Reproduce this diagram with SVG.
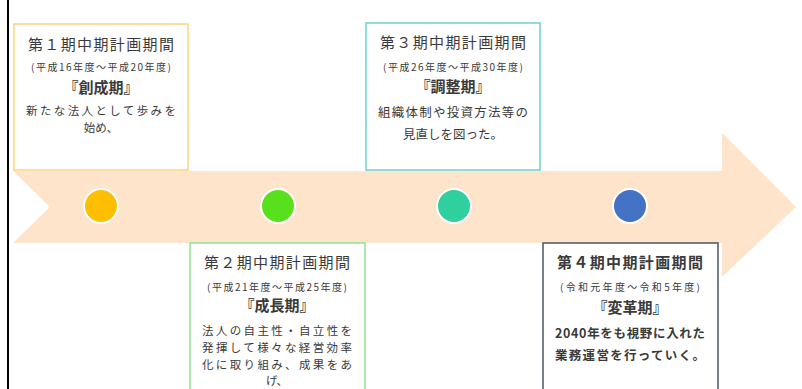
<svg xmlns="http://www.w3.org/2000/svg" width="802" height="389" viewBox="0 0 802 389">
<style>
.t{font-family:"Noto Sans CJK JP","Noto Sans CJK SC",sans-serif;fill:#3a3a3a;text-anchor:middle}
.h{font-size:15px}
.s{font-size:10px}
.k{font-size:15px;font-weight:bold}
.b{font-size:12.5px}
.c{font-size:11.5px}
.box{fill:#ffffff;stroke-width:1.5}
.dot{stroke:#ffffff;stroke-width:2}
</style>
<rect x="0" y="0" width="802" height="389" fill="#ffffff"/>
<line x1="8" y1="0" x2="8" y2="389" stroke="#000000" stroke-width="2"/>
<g id="arrow">
<polygon points="13,171 722,171 722,133 796,207 722,277 722,243 13,243 50,207" fill="#fde4ca"/>
</g>
<g id="connectors"></g>
<g id="dot1"><circle class="dot" cx="101" cy="206" r="17" fill="#ffbe00"/></g>
<g id="dot2"><circle class="dot" cx="278" cy="206" r="17" fill="#59e01c"/></g>
<g id="dot3"><circle class="dot" cx="454" cy="206" r="17" fill="#30cf9e"/></g>
<g id="dot4"><circle class="dot" cx="630" cy="206" r="17" fill="#4472c4"/></g>
<g id="box1">
<rect class="box" x="14" y="24" width="174" height="146" stroke="#ffd27a"/>
<text class="t h" x="101" y="50" textLength="146">第１期中期計画期間</text>
<text class="t s" x="101" y="71" textLength="140">(平成16年度～平成20年度)</text>
<text class="t k" x="101" y="93">『創成期』</text>
<text class="t c" x="101" y="115" textLength="150">新たな法人として歩みを</text>
<text class="t c" x="101" y="132">始め、</text>
</g>
<g id="box2">
<rect class="box" x="190" y="243" width="175" height="150" stroke="#8fe38f"/>
<text class="t h" x="277" y="268" textLength="146">第２期中期計画期間</text>
<text class="t s" x="277" y="291" textLength="140">(平成21年度～平成25年度)</text>
<text class="t k" x="277" y="311">『成長期』</text>
<text class="t c" x="277" y="335" textLength="150">法人の自主性・自立性を</text>
<text class="t c" x="277" y="352" textLength="150">発揮して様々な経営効率</text>
<text class="t c" x="277" y="369" textLength="150">化に取り組み、成果をあ</text>
<text class="t c" x="277" y="385">げ、</text>
</g>
<g id="box3">
<rect class="box" x="366" y="23" width="174" height="147" stroke="#6ccfcf"/>
<text class="t h" x="453" y="48" textLength="146">第３期中期計画期間</text>
<text class="t s" x="453" y="71" textLength="140">(平成26年度～平成30年度)</text>
<text class="t k" x="453" y="92">『調整期』</text>
<text class="t b" x="453" y="117" textLength="150">組織体制や投資方法等の</text>
<text class="t b" x="453" y="139">見直しを図った。</text>
</g>
<g id="box4">
<rect class="box" x="543" y="243" width="175" height="150" stroke="#4a5668"/>
<text class="t h" x="630" y="268" textLength="146" font-weight="bold">第４期中期計画期間</text>
<text class="t s" x="630" y="291" textLength="140">(令和元年度～令和5年度)</text>
<text class="t k" x="630" y="313">『変革期』</text>
<text class="t b" x="630" y="338" textLength="150" font-weight="bold">2040年をも視野に入れた</text>
<text class="t b" x="630" y="360" textLength="150" font-weight="bold">業務運営を行っていく。</text>
</g>
</svg>
